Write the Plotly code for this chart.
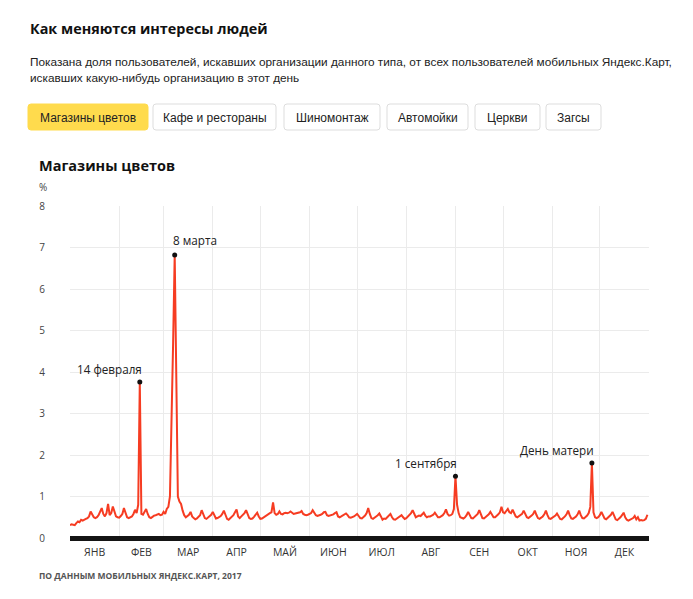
import plotly.graph_objects as go

# ---- data -----------------------------------------------------------------
# daily share of users (%) searching for flower shops, 2017, Jan 1 = day 0
# one row per week, Sunday..Saturday
weeks = [
    [0.31, 0.33, 0.32, 0.31, 0.36, 0.40, 0.38],
    [0.44, 0.42, 0.45, 0.46, 0.48, 0.52, 0.64],
    [0.55, 0.50, 0.48, 0.50, 0.55, 0.62, 0.72],
    [0.58, 0.52, 0.60, 0.82, 0.55, 0.60, 0.76],
    [0.62, 0.52, 0.50, 0.49, 0.53, 0.58, 0.72],
    [0.62, 0.50, 0.48, 0.50, 0.52, 0.58, 0.68],
    [0.60, 0.80, 3.76, 0.58, 0.56, 0.62, 0.70],
    [0.58, 0.50, 0.48, 0.52, 0.54, 0.55, 0.56],
    [0.58, 0.55, 0.56, 0.63, 0.58, 0.70, 0.75],
    [1.00, 2.50, 4.70, 6.82, 3.60, 1.00, 0.88],
    [0.82, 0.66, 0.55, 0.50, 0.52, 0.56, 0.63],
    [0.52, 0.48, 0.45, 0.47, 0.50, 0.55, 0.67],
    [0.58, 0.48, 0.46, 0.50, 0.52, 0.56, 0.63],
    [0.55, 0.47, 0.48, 0.50, 0.53, 0.58, 0.66],
    [0.56, 0.46, 0.44, 0.47, 0.50, 0.55, 0.62],
    [0.69, 0.52, 0.48, 0.52, 0.56, 0.60, 0.67],
    [0.58, 0.48, 0.46, 0.47, 0.51, 0.55, 0.61],
    [0.52, 0.46, 0.47, 0.50, 0.52, 0.54, 0.58],
    [0.60, 0.62, 0.86, 0.60, 0.56, 0.58, 0.64],
    [0.58, 0.57, 0.60, 0.61, 0.60, 0.61, 0.64],
    [0.60, 0.58, 0.59, 0.60, 0.60, 0.62, 0.65],
    [0.58, 0.56, 0.55, 0.56, 0.58, 0.60, 0.67],
    [0.60, 0.55, 0.53, 0.54, 0.56, 0.58, 0.62],
    [0.63, 0.55, 0.53, 0.54, 0.55, 0.57, 0.60],
    [0.62, 0.52, 0.50, 0.52, 0.54, 0.55, 0.59],
    [0.55, 0.50, 0.49, 0.50, 0.52, 0.55, 0.58],
    [0.53, 0.48, 0.47, 0.50, 0.54, 0.60, 0.72],
    [0.58, 0.48, 0.46, 0.48, 0.52, 0.55, 0.59],
    [0.52, 0.44, 0.47, 0.46, 0.50, 0.54, 0.58],
    [0.50, 0.45, 0.44, 0.47, 0.50, 0.52, 0.55],
    [0.50, 0.46, 0.48, 0.52, 0.55, 0.60, 0.67],
    [0.56, 0.50, 0.52, 0.54, 0.53, 0.56, 0.61],
    [0.54, 0.50, 0.52, 0.52, 0.54, 0.56, 0.61],
    [0.54, 0.50, 0.50, 0.52, 0.55, 0.60, 0.69],
    [0.58, 0.54, 0.55, 0.58, 0.70, 1.49, 0.80],
    [0.60, 0.50, 0.48, 0.47, 0.50, 0.55, 0.63],
    [0.55, 0.48, 0.47, 0.50, 0.54, 0.58, 0.67],
    [0.57, 0.48, 0.47, 0.50, 0.53, 0.57, 0.63],
    [0.56, 0.50, 0.50, 0.53, 0.57, 0.62, 0.75],
    [0.62, 0.60, 0.65, 0.70, 0.62, 0.60, 0.68],
    [0.58, 0.52, 0.50, 0.52, 0.55, 0.58, 0.66],
    [0.57, 0.50, 0.48, 0.50, 0.54, 0.58, 0.66],
    [0.56, 0.48, 0.46, 0.48, 0.52, 0.57, 0.66],
    [0.55, 0.47, 0.46, 0.48, 0.50, 0.54, 0.59],
    [0.52, 0.46, 0.45, 0.48, 0.52, 0.57, 0.66],
    [0.55, 0.47, 0.46, 0.48, 0.52, 0.57, 0.66],
    [0.55, 0.48, 0.47, 0.50, 0.54, 0.60, 0.75],
    [1.81, 0.62, 0.50, 0.48, 0.50, 0.55, 0.63],
    [0.54, 0.47, 0.45, 0.48, 0.52, 0.56, 0.63],
    [0.52, 0.45, 0.43, 0.46, 0.50, 0.55, 0.61],
    [0.50, 0.44, 0.42, 0.44, 0.47, 0.48, 0.53],
    [0.45, 0.50, 0.42, 0.43, 0.42, 0.43, 0.46],
    [0.56],
]
values = [v for w in weeks for v in w]
days = list(range(len(values)))

month_starts = [0, 31, 59, 90, 120, 151, 181, 212, 243, 273, 304, 334, 365]
month_labels = ['ЯНВ', 'ФЕВ', 'МАР', 'АПР', 'МАЙ', 'ИЮН',
                'ИЮЛ', 'АВГ', 'СЕН', 'ОКТ', 'НОЯ', 'ДЕК']
month_mids = [(a + b) / 2 for a, b in zip(month_starts[:-1], month_starts[1:])]

peak_days = [44, 66, 243, 329]
peak_labels = ['14 февраля', '8 марта', '1 сентября', 'День матери']

tabs = ['Магазины цветов', 'Кафе и рестораны', 'Шиномонтаж',
        'Автомойки', 'Церкви', 'Загсы']

# ---- page geometry (pixels) -----------------------------------------------
W, H = 693, 599
PL, PR, PT, PB = 70, 649, 206, 538

def px(x):
    return (x - PL) / (PR - PL)

def py(y):
    return (PB - y) / (PB - PT)

def rounded_rect(x0, y0, x1, y1, r=3):
    a, b, c, d = px(x0), px(x1), py(y0), py(y1)
    rx, ry = r / (PR - PL), r / (PB - PT)
    return (f'M {a+rx} {c} L {b-rx} {c} Q {b} {c} {b} {c-ry} '
            f'L {b} {d+ry} Q {b} {d} {b-rx} {d} L {a+rx} {d} '
            f'Q {a} {d} {a} {d+ry} L {a} {c-ry} Q {a} {c} {a+rx} {c} Z')

FONT = 'Open Sans, Liberation Sans, sans-serif'
PLAIN = 'Liberation Sans, Arial, sans-serif'

fig = go.Figure()

fig.add_trace(go.Scatter(
    x=days, y=values, mode='lines',
    line=dict(color='#f63c22', width=2),
    hoverinfo='skip', showlegend=False,
))

fig.add_trace(go.Scatter(
    x=peak_days, y=[values[d] for d in peak_days], mode='markers',
    marker=dict(color='#111111', size=5),
    hoverinfo='skip', showlegend=False,
))

annotations = []
for d, lab in zip(peak_days, peak_labels):
    left = lab == '8 марта'
    annotations.append(dict(
        x=d, y=values[d], xref='x', yref='y', text=lab, showarrow=False,
        xanchor='left' if left else 'right', yanchor='bottom',
        xshift=-4 if left else 4, yshift=5 if left else 3,
        font=dict(family=FONT, size=11.7, color='#222222'),
    ))

# page texts
annotations += [
    dict(x=px(28), y=py(28), text='<b>Как меняются интересы людей</b>',
         font=dict(family=FONT, size=14.4, color='#111111')),
    dict(x=px(28), y=py(62),
         text='Показана доля пользователей, искавших организации данного типа, '
              'от всех пользователей мобильных Яндекс.Карт,',
         font=dict(family=PLAIN, size=11.8, color='#222222')),
    dict(x=px(28), y=py(78),
         text='искавших какую-нибудь организацию в этот день',
         font=dict(family=PLAIN, size=11.8, color='#222222')),
    dict(x=px(37), y=py(165), text='<b>Магазины цветов</b>',
         font=dict(family=FONT, size=14.5, color='#111111')),
    dict(x=px(37), y=py(187), text='%',
         font=dict(family=FONT, size=10, color='#444444')),
    dict(x=px(37), y=py(575), text='<b>ПО ДАННЫМ МОБИЛЬНЫХ ЯНДЕКС.КАРТ, 2017</b>',
         font=dict(family=FONT, size=8.5, color='#555555')),
]
for a in annotations[len(peak_days):]:
    a.update(xref='paper', yref='paper', xanchor='left', yanchor='middle',
             showarrow=False)

# tab buttons
tab_x = [(28, 148), (153, 276), (284, 380), (387, 468), (475, 540), (546, 601)]
shapes = []
for i, ((x0, x1), lab) in enumerate(zip(tab_x, tabs)):
    active = i == 0
    shapes.append(dict(
        type='path', xref='paper', yref='paper',
        path=rounded_rect(x0, 104, x1, 130),
        fillcolor='#ffdb4d' if active else '#ffffff',
        line=dict(color='#ffdb4d' if active else '#dddddd', width=1),
        layer='below',
    ))
    annotations.append(dict(
        x=px((x0 + x1) / 2), y=py(117.5), xref='paper', yref='paper',
        text=lab, showarrow=False, xanchor='center', yanchor='middle',
        font=dict(family=PLAIN, size=12, color='#222222'),
    ))

fig.update_layout(
    width=W, height=H,
    margin=dict(l=PL, r=W - PR, t=PT, b=H - PB, pad=0),
    paper_bgcolor='white',
    plot_bgcolor='white',
    showlegend=False,
    annotations=annotations,
    shapes=shapes,
    xaxis=dict(
        range=[0, 365], tickvals=month_mids, ticktext=month_labels,
        showgrid=False, zeroline=False, ticks='', fixedrange=True,
        tickfont=dict(family=FONT, size=10.5, color='#333333'),
        ticklabelstandoff=6,
        minor=dict(tickvals=month_starts, showgrid=True,
                   gridcolor='#ebebeb', gridwidth=1, ticks=''),
    ),
    yaxis=dict(
        range=[0, 8], tickvals=list(range(9)), showgrid=True,
        gridcolor='#ebebeb', gridwidth=1, ticks='', fixedrange=True,
        zeroline=True, zerolinecolor='#141414', zerolinewidth=5,
        tickfont=dict(family=FONT, size=10, color='#444444'),
        ticklabelstandoff=24,
    ),
)

fig.write_html("out.html", config={'displayModeBar': False},
               post_script="document.body.style.margin='0';")
